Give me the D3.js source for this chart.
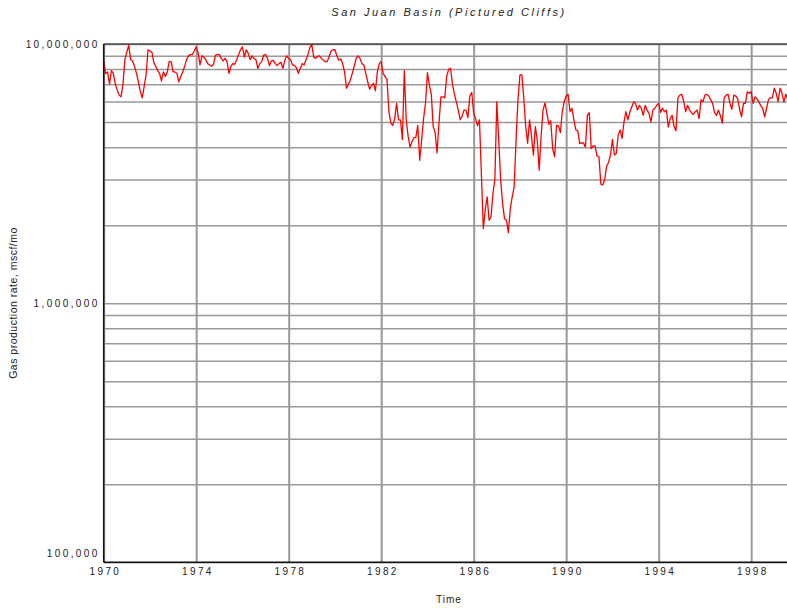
<!DOCTYPE html>
<html>
<head>
<meta charset="utf-8">
<script src="https://cdn.jsdelivr.net/npm/d3@7"></script>
<style>
  body { margin: 0; background: #fff; }
  svg { display: block; font-family: "Liberation Sans", Arial, sans-serif; }
  .grid line { stroke: #999; stroke-width: 1.5; }
  .grid path { display: none; }
  .tick-labels text { font-size: 10px; letter-spacing: 2.4px; fill: #222; }
</style>
</head>
<body>
<script>
// San Juan Basin (Pictured Cliffs) - monthly gas production, millions of mscf/mo
// one row per year, Jan..Dec
var rate1970s = [
  [8.55, 7.7, 7.8, 7.0, 7.9, 7.7, 7.0, 6.65, 6.35, 6.25, 7.0, 8.7],   // 1970
  [9.3, 9.9, 8.7, 8.6, 8.2, 7.7, 7.15, 6.55, 6.2, 6.85, 7.6, 9.5],    // 1971
  [9.4, 9.3, 8.5, 8.2, 7.9, 7.7, 7.2, 7.8, 7.5, 7.8, 8.55, 8.55],     // 1972
  [7.8, 7.8, 7.7, 7.15, 7.5, 7.8, 8.2, 8.7, 9.0, 9.1, 9.1, 9.4],      // 1973
  [9.75, 9.25, 8.3, 9.0, 8.9, 8.7, 8.4, 8.3, 8.2, 8.35, 9.05, 9.1],   // 1974
  [9.1, 8.8, 8.6, 8.8, 8.55, 7.7, 8.2, 8.4, 8.35, 8.7, 9.1, 9.5],     // 1975
  [9.75, 8.9, 9.5, 9.2, 8.7, 9.0, 8.8, 8.7, 8.05, 8.4, 8.55, 9.05],   // 1976
  [9.1, 8.8, 8.25, 8.6, 8.65, 8.4, 8.25, 8.4, 8.5, 8.05, 8.65, 9.0],  // 1977
  [8.8, 8.7, 8.3, 8.25, 8.1, 7.7, 8.05, 8.4, 8.3, 8.7, 9.1, 9.7],     // 1978
  [9.95, 8.9, 8.8, 8.95, 9.0, 8.8, 8.65, 8.55, 8.55, 8.95, 9.4, 9.5]  // 1979
];
var rate1980s = [
  [9.5, 9.0, 8.65, 8.75, 8.4, 7.8, 6.75, 7.0, 7.25, 7.7, 8.2, 8.8],   // 1980
  [9.0, 8.8, 8.4, 8.3, 7.7, 7.15, 6.7, 6.9, 7.05, 6.6, 7.8, 8.4],     // 1981
  [8.55, 7.7, 7.5, 7.3, 5.5, 4.95, 4.85, 5.15, 5.9, 5.1, 5.1, 4.28],  // 1982
  [7.9, 5.1, 4.4, 4.0, 4.2, 4.35, 4.36, 4.85, 3.56, 4.26, 5.15, 5.9], // 1983
  [7.75, 6.95, 6.4, 4.8, 4.55, 3.8, 4.95, 6.25, 6.25, 6.2, 7.5, 7.98],// 1984
  [8.05, 7.0, 6.4, 5.98, 5.56, 5.1, 5.27, 5.56, 5.56, 5.2, 6.3, 6.5], // 1985
  [5.4, 5.15, 4.83, 5.1, 3.16, 1.94, 2.29, 2.57, 2.09, 2.15, 2.65, 3.0], // 1986
  [5.98, 4.26, 3.0, 2.42, 2.12, 2.09, 1.87, 2.32, 2.57, 2.8, 4.26, 6.1], // 1987
  [7.6, 7.6, 6.2, 4.8, 4.14, 5.1, 4.4, 3.73, 4.8, 4.26, 3.26, 4.4],   // 1988
  [5.56, 5.93, 5.4, 4.9, 5.05, 3.95, 3.67, 4.85, 4.83, 4.55, 5.5, 6.0] // 1989
];
var rate1990s = [
  [6.3, 6.4, 5.48, 5.65, 5.1, 4.66, 4.63, 4.14, 4.15, 4.15, 4.0, 5.3],  // 1990
  [5.43, 3.95, 4.04, 4.04, 3.7, 3.68, 2.88, 2.86, 3.0, 3.38, 3.49, 3.73], // 1991
  [4.28, 3.73, 3.78, 4.45, 4.66, 4.32, 5.0, 5.48, 5.1, 5.45, 5.7, 5.98], // 1992
  [5.9, 5.56, 5.8, 5.65, 5.3, 5.8, 5.56, 5.4, 5.0, 5.56, 5.65, 5.8],    // 1993
  [5.9, 5.45, 5.65, 5.48, 5.56, 4.78, 5.15, 5.3, 4.8, 4.63, 6.2, 6.35], // 1994
  [6.4, 6.0, 5.48, 5.8, 5.56, 5.43, 5.35, 5.48, 5.56, 5.15, 6.1, 5.98], // 1995
  [6.35, 6.4, 6.3, 6.1, 5.9, 5.43, 5.3, 5.56, 5.3, 4.95, 6.2, 6.35],   // 1996
  [6.4, 5.9, 5.6, 6.35, 6.3, 6.15, 5.6, 5.23, 5.9, 5.9, 6.55, 6.45],   // 1997
  [6.55, 5.9, 6.25, 6.15, 5.98, 5.78, 5.65, 5.23, 5.65, 6.1, 6.2, 6.2], // 1998
  [6.75, 6.45, 6.0, 6.75, 6.45, 5.98, 6.4, 6.1]                        // 1999 (partial)
];
var firstYear = 1970;
var yearTicks = [1970, 1974, 1978, 1982, 1986, 1990, 1994, 1998];
var rateTicks = [100000, 1000000, 10000000];

var svgWidth = 787;
var svgHeight = 608;
var margin = { top: 44, right: 0, bottom: 45.7, left: 103.7 };
var width = svgWidth - margin.left - margin.right;
var height = svgHeight - margin.top - margin.bottom;

// flatten year rows into monthly points
var data = [];
rate1970s.concat(rate1980s, rate1990s).forEach(function(row, yi) {
  row.forEach(function(v, mi) {
    data.push({ t: firstYear + yi + mi / 12, rate: v * 1e6 });
  });
});

var svg = d3.select("body").append("svg")
  .attr("width", svgWidth)
  .attr("height", svgHeight);

var chartGroup = svg.append("g")
  .attr("transform", `translate(${margin.left}, ${margin.top})`);

var xScale = d3.scaleLinear().domain([1970, 1999.55]).range([0, width]);
var yScale = d3.scaleLog().domain([1e5, 1e7]).range([height, 0]);

// horizontal grid (log minor ticks)
chartGroup.append("g")
  .attr("class", "grid")
  .call(d3.axisLeft(yScale).tickValues(yScale.ticks()).tickSize(-width).tickFormat(""));

// vertical grid every 4 years
chartGroup.append("g")
  .attr("class", "grid")
  .attr("transform", `translate(0, ${height})`)
  .call(d3.axisBottom(xScale).tickValues(yearTicks).tickSize(height).tickFormat(""))
  .selectAll("line").attr("y2", -height).style("stroke-width", 2);

// line
svg.append("defs").append("clipPath").attr("id", "plotclip")
  .append("rect").attr("width", width).attr("height", height + 1).attr("y", -1);

var line = d3.line()
  .x(d => xScale(d.t))
  .y(d => yScale(d.rate));

chartGroup.append("path")
  .datum(data)
  .attr("clip-path", "url(#plotclip)")
  .attr("fill", "none")
  .attr("stroke", "#ff0000")
  .attr("stroke-width", 1.3)
  .attr("stroke-linejoin", "round")
  .attr("d", line);

// frame: left, bottom, top
chartGroup.append("line").attr("x1", 0).attr("x2", 0).attr("y1", 0).attr("y2", height)
  .attr("stroke", "#111").attr("stroke-width", 1.5);
chartGroup.append("line").attr("x1", 0).attr("x2", width).attr("y1", height).attr("y2", height)
  .attr("stroke", "#111").attr("stroke-width", 1.5);
chartGroup.append("line").attr("x1", 0).attr("x2", width).attr("y1", 0).attr("y2", 0)
  .attr("stroke", "#111").attr("stroke-width", 1.2);

// tick labels
var yAxis = chartGroup.append("g")
  .attr("class", "tick-labels")
  .call(d3.axisLeft(yScale).tickValues(rateTicks).tickFormat(d3.format(",")).tickSize(0).tickPadding(4));
yAxis.select(".domain").remove();
yAxis.selectAll(".tick")
  .filter(d => d === 1e5)
  .select("text").attr("dy", "-0.55em");

var xAxis = chartGroup.append("g")
  .attr("class", "tick-labels")
  .attr("transform", `translate(0, ${height})`)
  .call(d3.axisBottom(xScale).tickValues(yearTicks).tickFormat(d3.format("d")).tickSize(0).tickPadding(6));
xAxis.select(".domain").remove();
xAxis.selectAll("text").attr("dx", "0.12em");

// titles
svg.append("text")
  .attr("x", 449)
  .attr("y", 16)
  .attr("text-anchor", "middle")
  .style("font-size", "11px")
  .style("font-style", "italic")
  .style("letter-spacing", "2.5px")
  .style("fill", "#222")
  .text("San Juan Basin (Pictured Cliffs)");

svg.append("text")
  .attr("x", 449)
  .attr("y", 603)
  .attr("text-anchor", "middle")
  .style("font-size", "10px")
  .style("letter-spacing", "1px")
  .style("fill", "#222")
  .text("Time");

svg.append("text")
  .attr("transform", "translate(17, 303) rotate(-90)")
  .attr("text-anchor", "middle")
  .style("font-size", "10.5px")
  .style("letter-spacing", "0.5px")
  .style("fill", "#222")
  .text("Gas production rate, mscf/mo");
</script>
</body>
</html>
